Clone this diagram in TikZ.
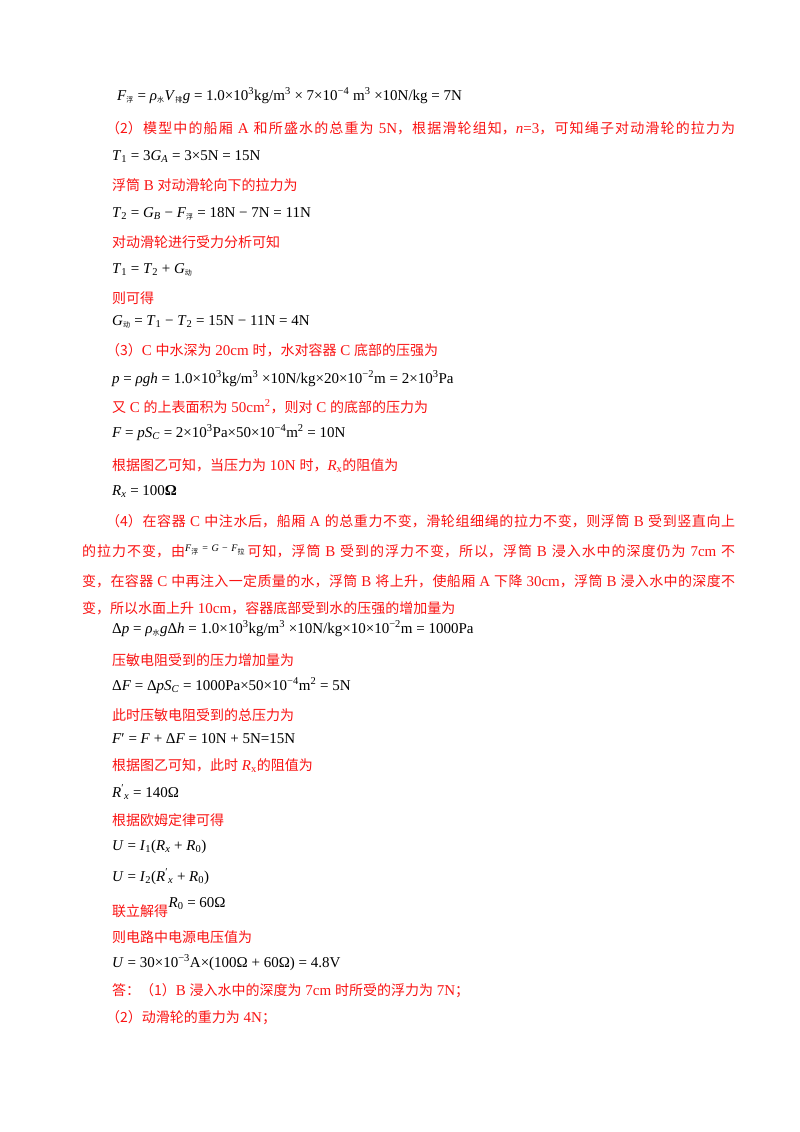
\documentclass[tikz,border=0pt]{standalone}
\usepackage{fontspec}
\setmainfont{Liberation Serif}
\newfontfamily\cjk{Noto Sans CJK SC}
\newcommand{\zh}[1]{{\cjk\fontsize{14}{17}\selectfont #1}}
\newcommand{\mysub}[1]{\textsubscript{#1}}
\newcommand{\mysup}[1]{\textsuperscript{#1}}
\newcommand{\zsub}[1]{\textsubscript{\cjk\scriptsize #1}}
\newcommand{\I}[1]{\textit{#1}}
\newcommand{\jline}[2]{\parbox{#1}{\XeTeXlinebreaklocale "zh"\XeTeXlinebreakskip=0pt plus 3pt\parfillskip=0pt\parindent=0pt\spaceskip=3.5pt plus 4pt #2}}
\definecolor{ansred}{RGB}{250,20,20}
\begin{document}
\begin{tikzpicture}[x=1pt,y=-1pt,
  ln/.style={anchor=base west,inner sep=0pt,font=\fontsize{15}{18}\selectfont},
  rl/.style={ln,text=ansred}]
\useasboundingbox[fill=white] (0,0) rectangle (800,1132);
\node[ln] (l1) at (117,100) {\I{F}\zsub{浮} = \I{ρ}\zsub{水}\I{V}\zsub{排}\I{g} = 1.0×10\mysup{3}kg/m\mysup{3} × 7×10\mysup{−4} m\mysup{3} ×10N/kg = 7N};
\node[rl] (l2) at (106,132) {\jline{629pt}{\zh{（2）模型中的船厢} A \zh{和所盛水的总重为} 5N\zh{，根据滑轮组知，}\I{n}=3\zh{，可知绳子对动滑轮的拉力为}}};
\node[ln] (l3) at (112,160) {\I{T}\mysub{1} = 3\I{G}\mysub{\I{A}} = 3×5N = 15N};
\node[rl] (l4) at (112,190) {\zh{浮筒} B \zh{对动滑轮向下的拉力为}};
\node[ln] (l5) at (112,217) {\I{T}\mysub{2} = \I{G}\mysub{\I{B}} − \I{F}\zsub{浮} = 18N − 7N = 11N};
\node[rl] (l6) at (112,247) {\zh{对动滑轮进行受力分析可知}};
\node[ln] (l7) at (112,273) {\I{T}\mysub{1} = \I{T}\mysub{2} + \I{G}\zsub{动}};
\node[rl] (l8) at (112,303) {\zh{则可得}};
\node[ln] (l9) at (112,325) {\I{G}\zsub{动} = \I{T}\mysub{1} − \I{T}\mysub{2} = 15N − 11N = 4N};
\node[rl] (l10) at (106,355) {\zh{（3）}C \zh{中水深为} 20cm \zh{时，水对容器} C \zh{底部的压强为}};
\node[ln] (l11) at (112,383) {\I{p} = \I{ρgh} = 1.0×10\mysup{3}kg/m\mysup{3} ×10N/kg×20×10\mysup{−2}m = 2×10\mysup{3}Pa};
\node[rl] (l12) at (112,412) {\zh{又} C \zh{的上表面积为} 50cm\mysup{2}\zh{，则对} C \zh{的底部的压力为}};
\node[ln] (l13) at (112,437) {\I{F} = \I{pS}\mysub{\I{C}} = 2×10\mysup{3}Pa×50×10\mysup{−4}m\mysup{2} = 10N};
\node[rl] (l14) at (112,470) {\zh{根据图乙可知，当压力为} 10N \zh{时，}\I{R}\mysub{x}\zh{的阻值为}};
\node[ln] (l15) at (112,495) {\I{R}\mysub{\I{x}} = 100\textbf{Ω}};
\node[rl] (l16) at (106,525) {\jline{629pt}{\zh{（4）在容器} C \zh{中注水后，船厢} A \zh{的总重力不变，滑轮组细绳的拉力不变，则浮筒} B \zh{受到竖直向上}}};
\node[rl] (l17) at (82,555) {\jline{653pt}{\zh{的拉力不变，由}\raisebox{5pt}{\textcolor{black}{\fontsize{10}{12}\selectfont\I{F}\zsub{浮} = \I{G} − \I{F}\zsub{拉}}}\,\zh{可知，浮筒} B \zh{受到的浮力不变，所以，浮筒} B \zh{浸入水中的深度仍为} 7cm \zh{不}}};
\node[rl] (l18) at (82,585) {\jline{653pt}{\zh{变，在容器} C \zh{中再注入一定质量的水，浮筒} B \zh{将上升，使船厢} A \zh{下降} 30cm\zh{，浮筒} B \zh{浸入水中的深度不}}};
\node[rl] (l19) at (82,613) {\zh{变，所以水面上升} 10cm\zh{，容器底部受到水的压强的增加量为}};
\node[ln] (l20) at (112,633) {Δ\I{p} = \I{ρ}\zsub{水}\I{g}Δ\I{h} = 1.0×10\mysup{3}kg/m\mysup{3} ×10N/kg×10×10\mysup{−2}m = 1000Pa};
\node[rl] (l21) at (112,665) {\zh{压敏电阻受到的压力增加量为}};
\node[ln] (l22) at (112,690) {Δ\I{F} = Δ\I{pS}\mysub{\I{C}} = 1000Pa×50×10\mysup{−4}m\mysup{2} = 5N};
\node[rl] (l23) at (112,720) {\zh{此时压敏电阻受到的总压力为}};
\node[ln] (l24) at (112,743) {\I{F}′ = \I{F} + Δ\I{F} = 10N + 5N=15N};
\node[rl] (l25) at (112,770) {\zh{根据图乙可知，此时} \I{R}\mysub{x}\zh{的阻值为}};
\node[ln] (l26) at (112,797) {\I{R}\mysup{′}\mysub{\I{x}} = 140Ω};
\node[rl] (l27) at (112,825) {\zh{根据欧姆定律可得}};
\node[ln] (l28) at (112,850) {\I{U} = \I{I}\mysub{1}(\I{R}\mysub{\I{x}} + \I{R}\mysub{0})};
\node[ln] (l29) at (112,881) {\I{U} = \I{I}\mysub{2}(\I{R}\mysup{′}\mysub{\I{x}} + \I{R}\mysub{0})};
\node[rl] (l30) at (112,916) {\zh{联立解得}};
\node[ln] (l30b) at (l30.base east) [anchor=base west,yshift=9pt] {\I{R}\mysub{0} = 60Ω};
\node[rl] (l31) at (112,942) {\zh{则电路中电源电压值为}};
\node[ln] (l32) at (112,967) {\I{U} = 30×10\mysup{−3}A×(100Ω + 60Ω) = 4.8V};
\node[rl] (l33) at (112,995) {\zh{答：（1）}B \zh{浸入水中的深度为} 7cm \zh{时所受的浮力为} 7N\zh{；}};
\node[rl] (l34) at (106,1022) {\zh{（2）动滑轮的重力为} 4N\zh{；}};
\end{tikzpicture}
\end{document}
